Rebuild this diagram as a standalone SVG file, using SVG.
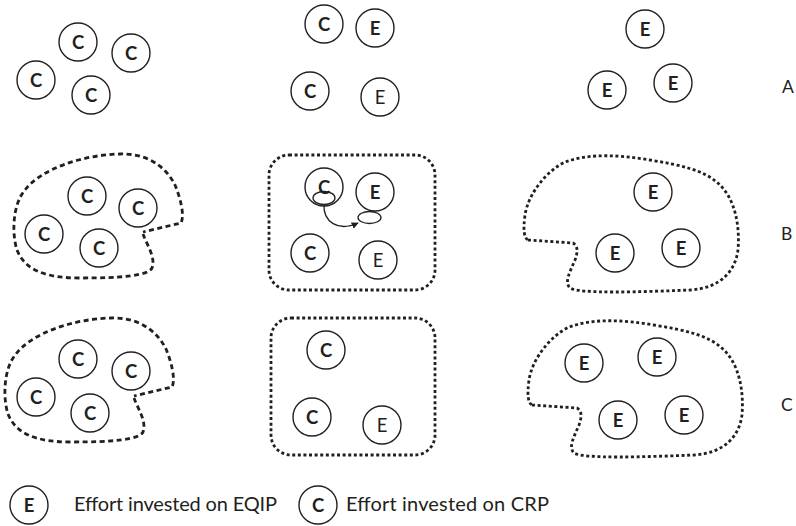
<svg xmlns="http://www.w3.org/2000/svg" width="796" height="526" viewBox="0 0 796 526">
  <style>
    .node circle { fill: none; stroke: #231f20; stroke-width: 1.4; }
    .node text { font-family: Lato, "Open Sans", "Liberation Sans", sans-serif; font-size: 18.5px; fill: #231f20; text-anchor: middle; }
    .b text { font-weight: bold; }
    .label { font-family: Lato, "Open Sans", "Liberation Sans", sans-serif; font-size: 17.5px; fill: #231f20; }
    .legend { font-family: Lato, "Open Sans", "Liberation Sans", sans-serif; font-size: 20px; fill: #231f20; }
    .dash { fill: none; stroke: #231f20; stroke-width: 2.8; stroke-dasharray: 5 3.5; }
    .dot { fill: none; stroke: #231f20; stroke-width: 2.8; stroke-dasharray: 3 2.6; }
    .thin { fill: none; stroke: #231f20; stroke-width: 1.3; }
  </style>
  <defs>
    <marker id="arrow" viewBox="0 0 10 10" refX="9" refY="5" markerWidth="7" markerHeight="7" orient="auto" markerUnits="userSpaceOnUse">
      <path d="M0 0 L10 5 L0 10 Z" fill="#231f20"/>
    </marker>
    <path id="blobLeft" d="M 143 234 C 147 245, 156 258, 152 268 C 148 276, 120 278, 80 278 C 45 278, 25 270, 17 250 C 12 235, 12 205, 25 190 C 40 170, 80 155, 120 154 C 145 153, 165 165, 175 185 C 180 197, 185 215, 181 223 L 143 232"/>
    <path id="blobRight" d="M 528 240 L 573 243 C 578 246, 578 252, 575 260 C 570 272, 564 282, 570 288 C 580 294, 640 292, 690 290 C 720 288, 735 272, 738 250 C 740 225, 735 200, 720 185 C 705 170, 680 165, 650 160 C 620 155, 590 153, 565 162 C 545 172, 528 195, 525 215 C 523 230, 524 238, 528 240 Z"/>
  </defs>

  <!-- group outlines -->
  <g id="groups">
    <use href="#blobLeft" class="dash"/>
    <use href="#blobLeft" class="dash" transform="translate(-9,164)"/>
    <rect class="dot" x="269" y="155" width="166" height="135" rx="20"/>
    <rect class="dot" x="271" y="318" width="164" height="137" rx="20"/>
    <use href="#blobRight" class="dot"/>
    <use href="#blobRight" class="dot" transform="translate(4,165)"/>
  </g>

  <!-- row A -->
  <g id="a1" class="node b"><circle cx="78" cy="42" r="19"/><text x="78" y="48.5">C</text></g>
  <g id="a2" class="node b"><circle cx="131" cy="53" r="19"/><text x="131" y="59.5">C</text></g>
  <g id="a3" class="node b"><circle cx="36" cy="80" r="19"/><text x="36" y="86.5">C</text></g>
  <g id="a4" class="node b"><circle cx="91" cy="95" r="19"/><text x="91" y="101.5">C</text></g>
  <g id="a5" class="node b"><circle cx="324" cy="24" r="19"/><text x="324" y="30.5">C</text></g>
  <g id="a6" class="node b"><circle cx="375" cy="28" r="19"/><text x="375" y="34.5">E</text></g>
  <g id="a7" class="node b"><circle cx="310" cy="91" r="19"/><text x="310" y="97.5">C</text></g>
  <g id="a8" class="node"><circle cx="380" cy="97" r="19"/><text x="380" y="103.5">E</text></g>
  <g id="a9" class="node b"><circle cx="645" cy="29" r="19"/><text x="645" y="35.5">E</text></g>
  <g id="a10" class="node b"><circle cx="607" cy="90" r="19"/><text x="607" y="96.5">E</text></g>
  <g id="a11" class="node b"><circle cx="673" cy="83" r="19"/><text x="673" y="89.5">E</text></g>

  <!-- row B -->
  <g id="b1" class="node b"><circle cx="87" cy="196" r="19"/><text x="87" y="202.5">C</text></g>
  <g id="b2" class="node b"><circle cx="138" cy="208" r="19"/><text x="138" y="214.5">C</text></g>
  <g id="b3" class="node b"><circle cx="44" cy="234" r="19"/><text x="44" y="240.5">C</text></g>
  <g id="b4" class="node b"><circle cx="99" cy="248" r="19"/><text x="99" y="254.5">C</text></g>
  <g id="b5" class="node b"><circle cx="324" cy="187" r="19"/><text x="324" y="193.5">C</text></g>
  <g id="b6" class="node b"><circle cx="375" cy="192" r="19"/><text x="375" y="198.5">E</text></g>
  <g id="b7" class="node b"><circle cx="310" cy="253" r="19"/><text x="310" y="259.5">C</text></g>
  <g id="b8" class="node"><circle cx="378" cy="260" r="19"/><text x="378" y="266.5">E</text></g>
  <g id="b9" class="node b"><circle cx="653" cy="192" r="19"/><text x="653" y="198.5">E</text></g>
  <g id="b10" class="node b"><circle cx="615" cy="253" r="19"/><text x="615" y="259.5">E</text></g>
  <g id="b11" class="node b"><circle cx="681" cy="248" r="19"/><text x="681" y="254.5">E</text></g>

  <!-- effort transfer -->
  <g id="transfer-source"><ellipse class="thin" cx="324" cy="198" rx="11" ry="6.5"/></g>
  <g id="transfer-target"><ellipse class="thin" cx="369.5" cy="217.5" rx="11.5" ry="6"/></g>

  <!-- row C -->
  <g id="c1" class="node b"><circle cx="78" cy="359" r="19"/><text x="78" y="365.5">C</text></g>
  <g id="c2" class="node b"><circle cx="131" cy="371" r="19"/><text x="131" y="377.5">C</text></g>
  <g id="c3" class="node b"><circle cx="36" cy="397" r="19"/><text x="36" y="403.5">C</text></g>
  <g id="c4" class="node b"><circle cx="90" cy="413" r="19"/><text x="90" y="419.5">C</text></g>
  <g id="c5" class="node b"><circle cx="326" cy="350" r="19"/><text x="326" y="356.5">C</text></g>
  <g id="c6" class="node b"><circle cx="312" cy="417" r="19"/><text x="312" y="423.5">C</text></g>
  <g id="c7" class="node"><circle cx="382" cy="425" r="19"/><text x="382" y="431.5">E</text></g>
  <g id="c8" class="node b"><circle cx="584" cy="363" r="19"/><text x="584" y="369.5">E</text></g>
  <g id="c9" class="node b"><circle cx="657" cy="357" r="19"/><text x="657" y="363.5">E</text></g>
  <g id="c10" class="node b"><circle cx="618" cy="420" r="19"/><text x="618" y="426.5">E</text></g>
  <g id="c11" class="node b"><circle cx="684" cy="415" r="19"/><text x="684" y="421.5">E</text></g>

  <!-- connectors -->
  <g id="connectors">
    <path class="thin" d="M 324 204 C 323 222, 338 232, 358 223" marker-end="url(#arrow)"/>
  </g>

  <!-- row labels -->
  <g id="row-labels">
    <text class="label" x="782" y="93">A</text>
    <text class="label" x="781" y="240">B</text>
    <text class="label" x="781" y="411">C</text>
  </g>

  <!-- legend -->
  <g id="legend-e" class="node b"><circle cx="29" cy="505" r="19"/><text x="29" y="511.5">E</text></g>
  <text class="legend" x="74" y="511" textLength="203" lengthAdjust="spacing">Effort invested on EQIP</text>
  <g id="legend-c" class="node b"><circle cx="318" cy="505" r="19"/><text x="318" y="511.5">C</text></g>
  <text class="legend" x="346" y="511" textLength="203" lengthAdjust="spacing">Effort invested on CRP</text>
</svg>
